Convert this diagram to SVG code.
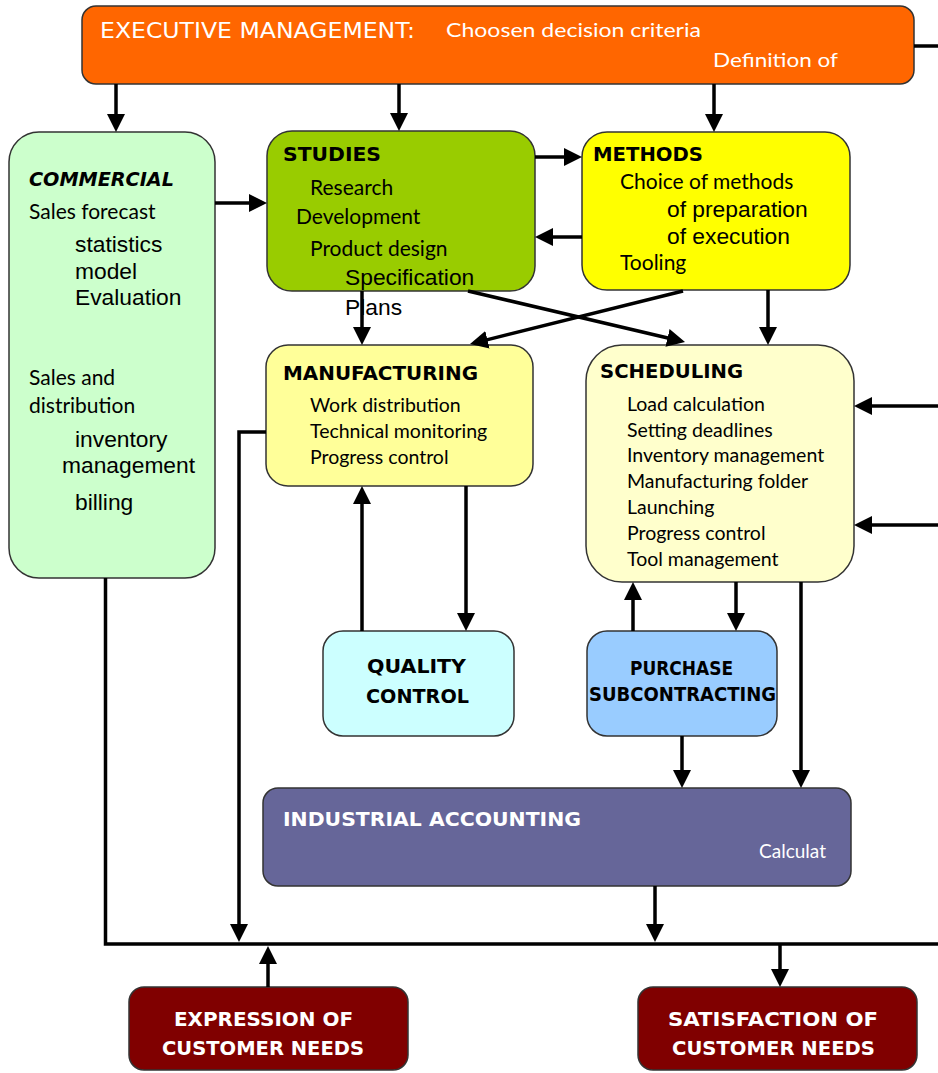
<svg xmlns="http://www.w3.org/2000/svg" width="938" height="1073" viewBox="0 0 938 1073">
  <style>
    .box { stroke: #333333; stroke-width: 1.5; }
    .hd { font-family: "DejaVu Sans", "Liberation Sans", sans-serif; font-weight: bold; font-size: 19px; fill: #000000; }
    .hdw { font-family: "DejaVu Sans", "Liberation Sans", sans-serif; font-weight: bold; font-size: 19px; fill: #ffffff; }
    .cal { font-family: Lato, "Open Sans", sans-serif; fill: #000000; }
    .ar { font-family: "Liberation Sans", Arial, sans-serif; font-size: 22.8px; fill: #000000; }
    .conn path { fill: none; stroke: #000000; stroke-width: 3.5; }
  </style>
  <defs>
    <marker id="arrow" markerUnits="userSpaceOnUse" viewBox="0 0 18 20" markerWidth="18" markerHeight="20" refX="8" refY="10" orient="auto">
      <path d="M0,1 L18,10 L0,19 Z" fill="#000000"/>
    </marker>
  </defs>
  <rect width="938" height="1073" fill="#ffffff"/>

  <!-- executive management bar -->
  <g id="executive">
    <rect class="box" x="82" y="6" width="832" height="78" rx="14" fill="#ff6600"/>
    <text x="100" y="38" font-family="DejaVu Sans, sans-serif" font-size="21" fill="#ffffff" textLength="315" lengthAdjust="spacingAndGlyphs">EXECUTIVE MANAGEMENT:</text>
    <text class="cal" x="446" y="37" font-size="20" style="fill:#ffffff" textLength="255" lengthAdjust="spacingAndGlyphs">Choosen decision criteria</text>
    <text class="cal" x="713" y="67" font-size="20" style="fill:#ffffff" textLength="125" lengthAdjust="spacingAndGlyphs">Definition of</text>
  </g>

  <!-- commercial -->
  <g id="commercial">
    <rect class="box" x="9" y="132" width="206" height="446" rx="30" fill="#ccffcc"/>
    <text class="hd" x="29" y="186" font-style="italic" textLength="145" lengthAdjust="spacingAndGlyphs">COMMERCIAL</text>
    <text class="cal" x="29" y="219" font-size="21">Sales forecast</text>
    <text class="ar" x="75" y="252">statistics</text>
    <text class="ar" x="75" y="279">model</text>
    <text class="ar" x="75" y="305">Evaluation</text>
    <text class="cal" x="29" y="385" font-size="21">Sales and</text>
    <text class="cal" x="29" y="413" font-size="21">distribution</text>
    <text class="ar" x="75" y="447">inventory</text>
    <text class="ar" x="62" y="473">management</text>
    <text class="ar" x="75" y="510">billing</text>
  </g>

  <!-- studies -->
  <g id="studies">
    <rect class="box" x="267" y="131" width="268" height="160" rx="25" fill="#99cc00"/>
    <text class="hd" x="283" y="161" textLength="98" lengthAdjust="spacingAndGlyphs">STUDIES</text>
    <text class="cal" x="310" y="195" font-size="21">Research</text>
    <text class="cal" x="296" y="224" font-size="21">Development</text>
    <text class="cal" x="310" y="256" font-size="21">Product design</text>
    <text class="ar" x="345" y="285">Specification</text>
    <text class="ar" x="345" y="315">Plans</text>
  </g>

  <!-- methods -->
  <g id="methods">
    <rect class="box" x="582" y="132" width="268" height="158" rx="25" fill="#ffff00"/>
    <text class="hd" x="593" y="161" textLength="110" lengthAdjust="spacingAndGlyphs">METHODS</text>
    <text class="cal" x="620" y="189" font-size="21">Choice of methods</text>
    <text class="ar" x="667" y="217">of preparation</text>
    <text class="ar" x="667" y="244">of execution</text>
    <text class="cal" x="620" y="270" font-size="21">Tooling</text>
  </g>

  <!-- manufacturing -->
  <g id="manufacturing">
    <rect class="box" x="266" y="345" width="267" height="141" rx="22" fill="#ffff99"/>
    <text class="hd" x="283" y="380" textLength="195" lengthAdjust="spacingAndGlyphs">MANUFACTURING</text>
    <text class="cal" x="310" y="412" font-size="19.5">Work distribution</text>
    <text class="cal" x="310" y="438" font-size="19.5">Technical monitoring</text>
    <text class="cal" x="310" y="464" font-size="19.5">Progress control</text>
  </g>

  <!-- scheduling -->
  <g id="scheduling">
    <rect class="box" x="586" y="345" width="268" height="237" rx="36" fill="#ffffcc"/>
    <text class="hd" x="600" y="378" textLength="143" lengthAdjust="spacingAndGlyphs">SCHEDULING</text>
    <text class="cal" x="627" y="411" font-size="19.5">Load calculation</text>
    <text class="cal" x="627" y="437" font-size="19.5">Setting deadlines</text>
    <text class="cal" x="627" y="462" font-size="19.5">Inventory management</text>
    <text class="cal" x="627" y="488" font-size="19.5">Manufacturing folder</text>
    <text class="cal" x="627" y="514" font-size="19.5">Launching</text>
    <text class="cal" x="627" y="540" font-size="19.5">Progress control</text>
    <text class="cal" x="627" y="566" font-size="19.5">Tool management</text>
  </g>

  <!-- quality control -->
  <g id="quality-control">
    <rect class="box" x="323" y="631" width="191" height="105" rx="20" fill="#ccffff"/>
    <text class="hd" x="367" y="673" textLength="99" lengthAdjust="spacingAndGlyphs">QUALITY</text>
    <text class="hd" x="366" y="703" textLength="103" lengthAdjust="spacingAndGlyphs">CONTROL</text>
  </g>

  <!-- purchase / subcontracting -->
  <g id="purchase">
    <rect class="box" x="587" y="631" width="190" height="105" rx="20" fill="#99ccff"/>
    <text class="hd" x="630" y="675" font-size="17" textLength="103" lengthAdjust="spacingAndGlyphs">PURCHASE</text>
    <text class="hd" x="589" y="701" font-size="17" textLength="187" lengthAdjust="spacingAndGlyphs">SUBCONTRACTING</text>
  </g>

  <!-- industrial accounting -->
  <g id="industrial-accounting">
    <rect class="box" x="263" y="788" width="588" height="98" rx="15" fill="#666699"/>
    <text class="hdw" x="283" y="826" textLength="298" lengthAdjust="spacingAndGlyphs">INDUSTRIAL ACCOUNTING</text>
    <text class="cal" x="759" y="858" font-size="19" style="fill:#ffffff" textLength="67" lengthAdjust="spacingAndGlyphs">Calculat</text>
  </g>

  <!-- customer needs -->
  <g id="expression">
    <rect class="box" x="129" y="987" width="279" height="83" rx="15" fill="#800000"/>
    <text class="hdw" x="174" y="1026" textLength="179" lengthAdjust="spacingAndGlyphs">EXPRESSION OF</text>
    <text class="hdw" x="162" y="1055" textLength="202" lengthAdjust="spacingAndGlyphs">CUSTOMER NEEDS</text>
  </g>
  <g id="satisfaction">
    <rect class="box" x="638" y="987" width="279" height="83" rx="15" fill="#800000"/>
    <text class="hdw" x="668" y="1026" textLength="210" lengthAdjust="spacingAndGlyphs">SATISFACTION OF</text>
    <text class="hdw" x="672" y="1055" textLength="203" lengthAdjust="spacingAndGlyphs">CUSTOMER NEEDS</text>
  </g>

  <!-- connectors -->
  <g id="connectors" class="conn">
    <path d="M116,84 V122" marker-end="url(#arrow)"/>
    <path d="M399,84 V121" marker-end="url(#arrow)"/>
    <path d="M714,84 V122" marker-end="url(#arrow)"/>
    <path d="M914,46 H938"/>
    <path d="M215,203 H257" marker-end="url(#arrow)"/>
    <path d="M535,157 H572" marker-end="url(#arrow)"/>
    <path d="M582,237 H545" marker-end="url(#arrow)"/>
    <path d="M362,291 V335" marker-end="url(#arrow)"/>
    <path d="M768,290 V335" marker-end="url(#arrow)"/>
    <path d="M468,291 L675.3,339.7" marker-end="url(#arrow)"/>
    <path d="M683,291 L479.7,341.6" marker-end="url(#arrow)"/>
    <path d="M466,486 V621" marker-end="url(#arrow)"/>
    <path d="M362,631 V496" marker-end="url(#arrow)"/>
    <path d="M266,432 H239 V932" marker-end="url(#arrow)"/>
    <path d="M736,582 V621" marker-end="url(#arrow)"/>
    <path d="M633,631 V592" marker-end="url(#arrow)"/>
    <path d="M682,736 V778" marker-end="url(#arrow)"/>
    <path d="M801,582 V778" marker-end="url(#arrow)"/>
    <path d="M938,406 H864" marker-end="url(#arrow)"/>
    <path d="M938,525 H864" marker-end="url(#arrow)"/>
    <path d="M655,886 V932" marker-end="url(#arrow)"/>
    <path d="M105.5,578 V944 H938"/>
    <path d="M268,987 V956" marker-end="url(#arrow)"/>
    <path d="M780,944 V977" marker-end="url(#arrow)"/>
  </g>
</svg>
